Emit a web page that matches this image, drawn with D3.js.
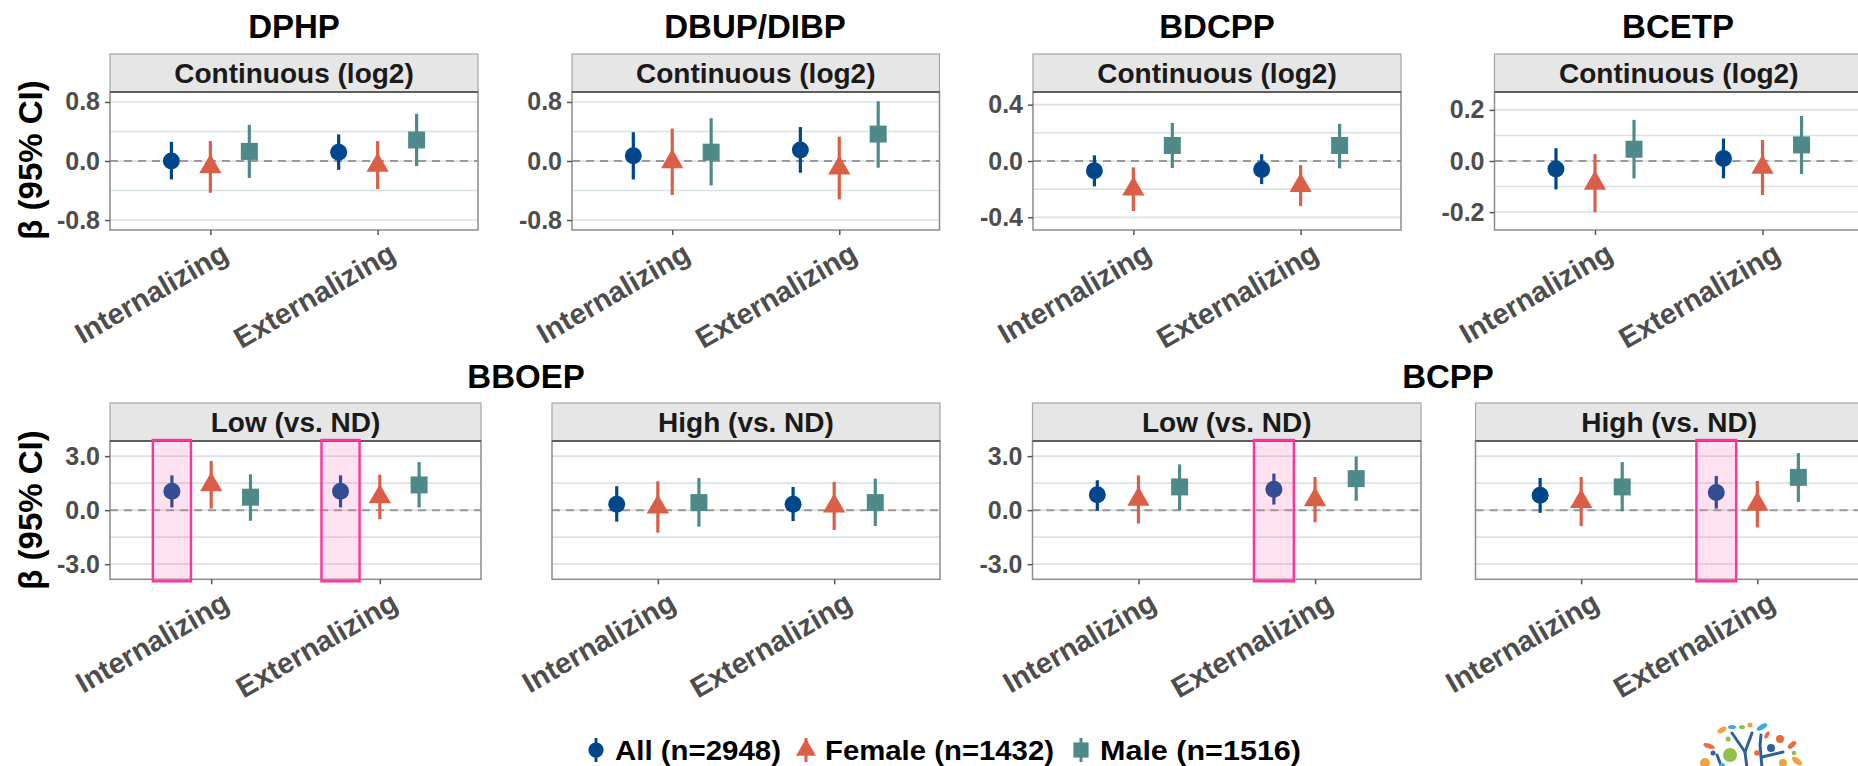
<!DOCTYPE html>
<html>
<head>
<meta charset="utf-8">
<script src="https://cdn.jsdelivr.net/npm/d3@7"></script>
<style>
  body { margin: 0; background: #fff; }
  text { font-family: "Liberation Sans", Arial, sans-serif; font-weight: bold; }
</style>
</head>
<body>
<div id="chart"></div>
<script>
// ---- data ----
var outcomes = ["Internalizing", "Externalizing"];
var groups = ["All (n=2948)", "Female (n=1432)", "Male (n=1516)"];
var compounds = ["DPHP", "DBUP/DIBP", "BDCPP", "BCETP", "BBOEP", "BCPP"];
var strips = ["Continuous (log2)", "Continuous (log2)", "Continuous (log2)", "Continuous (log2)",
              "Low (vs. ND)", "High (vs. ND)", "Low (vs. ND)", "High (vs. ND)"];
var yTicks = [[-0.8, 0, 0.8], [-0.8, 0, 0.8], [-0.4, 0, 0.4], [-0.2, 0, 0.2],
              [-3, 0, 3], [-3, 0, 3], [-3, 0, 3], [-3, 0, 3]];
var yLimits = [0.935, 0.935, 0.49, 0.27, 3.84, 3.84, 3.84, 3.84];

// estimate[panel][outcome][group]
var estimate = [
  [[0.00, -0.08, 0.13], [0.12, -0.06, 0.285]],
  [[0.07, -0.01, 0.12], [0.15, -0.095, 0.365]],
  [[-0.07, -0.20, 0.11], [-0.06, -0.175, 0.11]],
  [[-0.031, -0.087, 0.046], [0.01, -0.025, 0.063]],
  [[1.05, 1.41, 0.72], [1.05, 0.74, 1.40]],
  [[0.33, 0.17, 0.42], [0.33, 0.23, 0.42]],
  [[0.85, 0.60, 1.29], [1.16, 0.58, 1.75]],
  [[0.83, 0.48, 1.29], [0.98, 0.33, 1.82]]
];
var lower = [
  [[-0.25, -0.43, -0.23], [-0.12, -0.38, -0.07]],
  [[-0.25, -0.46, -0.33], [-0.16, -0.52, -0.09]],
  [[-0.18, -0.355, -0.05], [-0.164, -0.32, -0.052]],
  [[-0.111, -0.20, -0.068], [-0.068, -0.133, -0.051]],
  [[0.15, 0.09, -0.59], [0.15, -0.50, 0.15]],
  [[-0.64, -1.25, -0.92], [-0.61, -1.10, -0.88]],
  [[-0.04, -0.74, 0.00], [0.31, -0.68, 0.52]],
  [[-0.15, -0.88, -0.06], [0.09, -0.96, 0.46]]
];
var upper = [
  [[0.26, 0.27, 0.49], [0.36, 0.27, 0.64]],
  [[0.39, 0.44, 0.58], [0.46, 0.33, 0.81]],
  [[0.04, -0.045, 0.27], [0.048, -0.029, 0.264]],
  [[0.05, 0.027, 0.161], [0.088, 0.082, 0.176]],
  [[1.93, 2.73, 1.99], [1.93, 1.97, 2.67]],
  [[1.33, 1.60, 1.79], [1.29, 1.57, 1.75]],
  [[1.66, 1.93, 2.54], [2.03, 1.84, 2.98]],
  [[1.79, 1.84, 2.67], [1.90, 1.62, 3.17]]
];
// highlighted estimates: [panel, outcome, group]
var highlights = [[4, 0, 0], [4, 1, 0], [6, 1, 0], [7, 1, 0]];

// ---- layout ----
var width = 1858, height = 766;
var colors = ["#00468B", "#DB5F47", "#4F8A8B"];
var shapes = [d3.symbolCircle, d3.symbolTriangle, d3.symbolSquare];
var shapeSizes = [227, 215, 289];
var dodge = [-0.233, 0, 0.233];
var stripH = 38;
var panelBoxes = [
  [110, 478, 54, 230], [572, 939.5, 54, 230], [1033, 1401, 54, 230], [1494.5, 1863, 54, 230],
  [110, 481, 403, 579.3], [552, 940, 403, 579.3], [1032.5, 1421, 403, 579.3], [1475.5, 1863, 403, 579.3]
];
var showYAxis = [true, true, true, true, true, false, true, false];
var titleSpots = [[294, 38], [755, 38], [1217, 38], [1678, 38], [526, 388], [1448, 388]];

var svg = d3.select("#chart").append("svg")
    .attr("width", width).attr("height", height);

var fmt = function(d) { return d.toFixed(1); };

panelBoxes.forEach(function(b, p) {
    var x0 = b[0], x1 = b[1], top = b[2], bottom = b[3], plotTop = top + stripH;
    var x = d3.scaleLinear().domain([0.4, 2.6]).range([x0, x1]);
    var y = d3.scaleLinear().domain([-yLimits[p], yLimits[p]]).range([bottom, plotTop]);
    var g = svg.append("g");

    // grid lines (major + minor)
    var major = yTicks[p];
    var step = major[2] - major[1];
    var grid = major.concat([major[0] + step / 2, major[1] + step / 2]);
    g.append("g").selectAll("line")
        .data(grid)
        .enter().append("line")
        .attr("x1", x0).attr("x2", x1)
        .attr("y1", function(d) { return y(d); })
        .attr("y2", function(d) { return y(d); })
        .attr("stroke", "#D8E3E3")
        .attr("stroke-width", 1.6);

    // zero reference line
    g.append("line")
        .attr("x1", x0).attr("x2", x1)
        .attr("y1", y(0)).attr("y2", y(0))
        .attr("stroke", "#999").attr("stroke-width", 2)
        .attr("stroke-dasharray", "8,6");

    // strip
    g.append("rect")
        .attr("x", x0).attr("y", top)
        .attr("width", x1 - x0).attr("height", stripH)
        .attr("fill", "#E6E6E6").attr("stroke", "#A6A6A6").attr("stroke-width", 1.2);
    g.append("text")
        .attr("x", (x0 + x1) / 2).attr("y", top + stripH / 2 + 10)
        .attr("text-anchor", "middle")
        .attr("font-size", 28).attr("fill", "#1A1A1A")
        .text(strips[p]);

    // panel border
    g.append("rect")
        .attr("x", x0).attr("y", plotTop)
        .attr("width", x1 - x0).attr("height", bottom - plotTop)
        .attr("fill", "none").attr("stroke", "#8C8C8C").attr("stroke-width", 1.5);
    g.append("line")
        .attr("x1", x0).attr("x2", x1)
        .attr("y1", plotTop).attr("y2", plotTop)
        .attr("stroke", "#5E5E5E").attr("stroke-width", 2.2);

    // y axis
    if (showYAxis[p]) {
        var ya = g.append("g")
            .attr("transform", "translate(" + x0 + ",0)")
            .call(d3.axisLeft(y).tickValues(major).tickFormat(fmt).tickSize(5).tickPadding(5));
        ya.select(".domain").remove();
        ya.selectAll("line").attr("stroke", "#555").attr("stroke-width", 1.5);
        ya.selectAll("text")
            .attr("font-size", 25).attr("fill", "#4D4D4D")
            .attr("font-family", "Liberation Sans, Arial, sans-serif")
            .attr("font-weight", "bold");
    }

    // x axis
    var xa = g.append("g")
        .attr("transform", "translate(0," + bottom + ")")
        .call(d3.axisBottom(x).tickValues([1, 2])
            .tickFormat(function(d) { return outcomes[d - 1]; }).tickSize(5));
    xa.select(".domain").remove();
    xa.selectAll("line").attr("stroke", "#555").attr("stroke-width", 1.5);
    xa.selectAll("text")
        .attr("x", 0).attr("y", 0).attr("dy", "0.72em")
        .attr("text-anchor", "end")
        .attr("transform", "translate(9,11) rotate(-30)")
        .attr("font-size", 29).attr("fill", "#4D4D4D")
        .attr("font-family", "Liberation Sans, Arial, sans-serif")
        .attr("font-weight", "bold");

    // point ranges
    var rows = [];
    outcomes.forEach(function(o, j) {
        groups.forEach(function(gr, k) {
            rows.push({ j: j, k: k, est: estimate[p][j][k], lo: lower[p][j][k], hi: upper[p][j][k] });
        });
    });
    var pr = g.append("g").selectAll("g")
        .data(rows)
        .enter().append("g")
        .attr("transform", function(d) { return "translate(" + x(d.j + 1 + dodge[d.k]) + ",0)"; });
    pr.append("line")
        .attr("y1", function(d) { return y(d.lo); })
        .attr("y2", function(d) { return y(d.hi); })
        .attr("stroke", function(d) { return colors[d.k]; })
        .attr("stroke-width", 3.2);
    pr.append("path")
        .attr("transform", function(d) { return "translate(0," + y(d.est) + ")"; })
        .attr("d", function(d) { return d3.symbol().type(shapes[d.k]).size(shapeSizes[d.k])(); })
        .attr("fill", function(d) { return colors[d.k]; });

    // highlight boxes
    highlights.filter(function(h) { return h[0] === p; }).forEach(function(h) {
        var cx = h[1] + 1 + dodge[h[2]];
        g.append("rect")
            .attr("x", x(cx - 0.113)).attr("y", plotTop - 1)
            .attr("width", x(cx + 0.113) - x(cx - 0.113))
            .attr("height", bottom - plotTop + 3)
            .attr("fill", "#FF69B4").attr("fill-opacity", 0.2)
            .attr("stroke", "#FF3399").attr("stroke-width", 2.4);
    });
});

// compound titles
compounds.forEach(function(c, i) {
    svg.append("text")
        .attr("x", titleSpots[i][0]).attr("y", titleSpots[i][1])
        .attr("text-anchor", "middle")
        .attr("font-size", 33).attr("fill", "#000")
        .text(c);
});

// y axis titles
[160, 510].forEach(function(cy) {
    svg.append("text")
        .attr("transform", "translate(42," + cy + ") rotate(-90)")
        .attr("text-anchor", "middle")
        .attr("font-size", 33).attr("fill", "#000")
        .text("\u03B2 (95% CI)");
});

// legend
var legendX = [596, 806, 1081];
var legendW = [166, 229, 201];
var legend = svg.append("g").selectAll("g")
    .data(groups)
    .enter().append("g")
    .attr("transform", function(d, i) { return "translate(" + legendX[i] + ",750)"; });
legend.append("line")
    .attr("y1", -12).attr("y2", 12)
    .attr("stroke", function(d, i) { return colors[i]; })
    .attr("stroke-width", 3);
legend.append("path")
    .attr("d", function(d, i) { return d3.symbol().type(shapes[i]).size(shapeSizes[i] * 0.8)(); })
    .attr("fill", function(d, i) { return colors[i]; });
legend.append("text")
    .attr("x", 19).attr("y", 10)
    .attr("font-size", 27).attr("fill", "#000")
    .attr("textLength", function(d, i) { return legendW[i]; })
    .attr("lengthAdjust", "spacingAndGlyphs")
    .text(function(d) { return d; });

// small tree logo at the bottom-right corner (cropped in the figure)
var logo = svg.append("g");
logo.selectAll("path.branch")
    .data(["M1747,768 L1745,752 L1732,733", "M1745,752 L1752,733",
           "M1762,768 L1760,745 L1761,735", "M1762,757 L1783,752", "M1722,768 L1717,755"])
    .enter().append("path")
    .attr("d", function(d) { return d; })
    .attr("fill", "none").attr("stroke", "#2F5F9E").attr("stroke-width", 3)
    .attr("stroke-linecap", "round");
var leaves = [
    [1722, 730, 5, 2.5, -30, "#F5A03A"], [1732, 727, 4, 2, 0, "#3FA9E0"], [1742, 727, 3, 2, 0, "#8BC34A"],
    [1750, 725, 2.5, 2.5, 0, "#F5A03A"], [1762, 727, 6, 2.5, -30, "#3FA9E0"], [1767, 735, 4, 2, -60, "#EF6A3A"],
    [1780, 739, 4, 4, 0, "#EF6A3A"], [1709, 746, 6, 2.5, 20, "#EF6A3A"], [1713, 753, 2.5, 2.5, 0, "#2F5F9E"],
    [1730, 755, 7, 7, 0, "#8BC34A"], [1728, 739, 2.5, 2.5, 0, "#8BC34A"], [1705, 763, 5, 5, 0, "#F5A03A"],
    [1771, 748, 4, 4, 0, "#2F5F9E"], [1757, 753, 2.8, 2.8, 0, "#EF6A3A"], [1792, 745, 5, 2.5, -40, "#EF6A3A"],
    [1794, 753, 2.3, 2.3, 0, "#8BC34A"], [1783, 763, 4, 4, 0, "#F5A03A"], [1797, 761, 6, 3, 40, "#F5A03A"],
    [1722, 766, 3, 3, 0, "#3FA9E0"]
];
logo.selectAll("ellipse")
    .data(leaves)
    .enter().append("ellipse")
    .attr("transform", function(d) { return "translate(" + d[0] + "," + d[1] + ") rotate(" + d[4] + ")"; })
    .attr("rx", function(d) { return d[2]; })
    .attr("ry", function(d) { return d[3]; })
    .attr("fill", function(d) { return d[5]; });
</script>
</body>
</html>
